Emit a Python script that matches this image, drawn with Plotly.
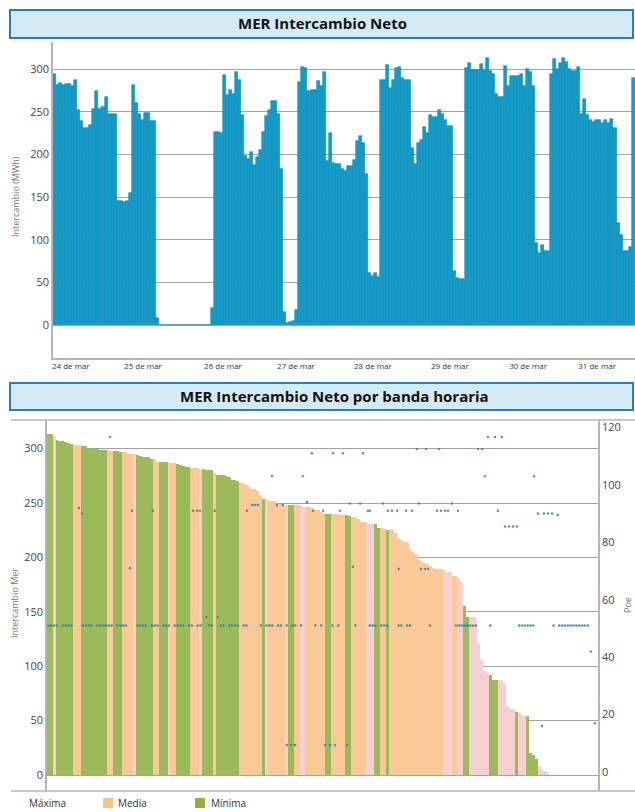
import plotly.graph_objects as go

# ---------------- DATA ----------------
# Hourly MER net exchange (MWh), 24-31 March
intercambio = [
    295, 282, 284, 282, 283, 283, 280, 288, 252, 239, 231, 231, 235, 254, 275, 254,
    256, 267, 248, 248, 248, 145, 145, 144, 145, 155, 282, 261, 248, 240, 249, 249,
    239, 239, 8, 0, 0, 0, 0, 0, 0, 0, 0, 0, 0, 0, 0, 0,
    0, 0, 0, 0, 20, 227, 227, 225, 293, 270, 276, 271, 297, 288, 246, 198,
    195, 203, 188, 197, 205, 226, 245, 252, 263, 263, 248, 183, 15, 3, 4, 5,
    18, 285, 303, 301, 274, 276, 276, 286, 280, 297, 192, 225, 190, 189, 189, 183,
    181, 187, 187, 194, 216, 222, 214, 177, 61, 58, 61, 57, 287, 287, 305, 278,
    288, 302, 303, 290, 288, 288, 208, 189, 214, 217, 232, 225, 246, 244, 244, 252,
    248, 240, 233, 233, 63, 55, 54, 54, 302, 307, 299, 299, 299, 306, 299, 313,
    298, 294, 271, 268, 268, 304, 281, 292, 292, 292, 295, 281, 300, 297, 280, 96,
    85, 94, 87, 87, 295, 312, 300, 307, 313, 308, 300, 298, 298, 303, 248, 265,
    246, 240, 238, 240, 240, 237, 240, 237, 242, 231, 120, 106, 87, 87, 92, 290,
]

day_labels = ["24 de mar", "25 de mar", "26 de mar", "27 de mar",
              "28 de mar", "29 de mar", "30 de mar", "31 de mar"]
day_label_hour = [5.4, 29.2, 55.6, 79.7, 105.1, 130.5, 156.3, 179.1]

# Band of each bar in the duration curve (sorted high -> low)
# X = Máxima, M = Media, G = Mínima
band_runs = [
    ("G", 2), ("X", 1), ("G", 6), ("M", 3), ("G", 9), ("M", 2), ("G", 3), ("M", 4),
    ("X", 1), ("G", 6), ("M", 2), ("G", 3), ("X", 1), ("M", 2), ("G", 5), ("M", 3),
    ("X", 1), ("G", 4), ("M", 1), ("G", 8), ("M", 8), ("G", 1), ("X", 1), ("M", 6),
    ("X", 1), ("G", 2), ("M", 2), ("X", 2), ("M", 7), ("G", 2), ("M", 5), ("G", 2),
    ("M", 5), ("X", 3), ("G", 2), ("M", 2), ("G", 1), ("M", 19), ("X", 3), ("M", 2),
    ("X", 2), ("G", 2), ("X", 7), ("G", 3), ("X", 6), ("G", 1), ("X", 3), ("G", 4),
    ("X", 21),
]
band_names = {"X": "Máxima", "M": "Media", "G": "Mínima"}
legend_labels = ["Máxima", "Media", "Mínima"]

# Poe points (secondary axis): position in the sorted curve and value
poe_rank = [
    0, 1, 2, 3, 5, 6, 7, 8,
    12, 13, 14, 15, 17, 18, 19, 20, 21, 22, 24, 25, 26, 27,
    31, 32, 33, 34, 36, 37, 38, 40, 41, 42, 44, 45, 46, 47, 49, 50,
    52, 53, 55, 56, 57, 59, 60, 61, 63, 64, 65, 66, 68, 69,
    74, 76, 77, 78, 80, 81, 83, 85, 86, 88, 93, 95, 99, 101, 107,
    112, 113, 114, 116, 117, 118, 122, 123, 125, 126, 133,
    142, 143, 144, 145, 146, 147, 148, 149, 154,
    164, 165, 166, 167, 168, 169, 176,
    178, 179, 180, 181, 182, 183, 184, 185, 186, 187, 188,
    21.5, 10.6, 11.7, 28.4, 29.1, 36.4, 50.4, 51.8, 52.8, 58, 69.2,
    71, 72, 73, 77.9, 79.6, 81.7, 88.7, 90.1, 91.8, 92.2, 95.7,
    99.2, 102.6, 101.6, 105, 108.6, 106.1, 109.6, 111.3, 112, 116.6,
    118.3, 119.7, 121.5, 122.1, 124.6, 126.7, 128.4, 131.6, 136.1, 129.1,
    129.8, 131.2, 132.3, 135.4, 136.8, 138.2, 139.2, 140.6, 142.7,
    149.7, 151.1, 152.1, 153.2, 155.6, 158, 156.6,
    159.1, 160.5, 161.9, 163.3, 169.2, 170.6, 172.7, 174.1, 175.5, 177.5,
    83.1, 84.5, 85.9, 96.4, 98.1, 99.8, 104, 172, 189, 190.4,
]
poe_value = [
    51, 51, 51, 51, 51, 51, 51, 51,
    51, 51, 51, 51, 51, 51, 51, 51, 51, 51, 51, 51, 51, 51,
    51, 51, 51, 51, 51, 51, 51, 51, 51, 51, 51, 51, 51, 51, 51, 51,
    51, 51, 54, 51, 51, 54, 51, 51, 51, 51, 51, 51, 51, 51,
    51, 51, 51, 51, 51, 51, 51, 51, 51, 51, 51, 51, 51, 51, 51,
    51, 51, 51, 51, 51, 51, 51, 51, 51, 51, 51,
    51, 51, 51, 51, 51, 51, 51, 51, 51,
    51, 51, 51, 51, 51, 51, 51,
    51, 51, 51, 51, 51, 51, 51, 51, 51, 51, 51,
    116.7, 92, 90, 71, 91, 91, 91, 91, 91, 91, 91,
    93, 93, 93, 103, 93, 93, 103, 94, 111, 91, 91,
    111, 111, 91, 93.5, 93.5, 71.5, 111, 91, 91, 93.5,
    91, 91, 91, 70.7, 91, 91, 112.5, 112.5, 112.5, 93.5,
    70.7, 70.7, 70.7, 91, 91, 91, 91, 93.5, 91,
    112.5, 112.5, 103, 116.7, 116.7, 116.7, 91,
    85.5, 85.5, 85.5, 85.5, 103, 90, 90, 90, 90, 89.5,
    9.4, 9.4, 9.4, 9.4, 9.4, 9.4, 9.4, 16, 42, 17,
]

# ---------------- LAYOUT HELPERS ----------------
W, H = 635, 812
def fx(p):
    return p / W
def fy(p):
    return 1 - p / H

FONT = "Open Sans"
GRID = "#a3a3a3"
AXIS = "#b5b5b5"
band_color = {"X": "#f6d0d0", "M": "#f9ca98", "G": "#9cba5a"}
swatch_color = {"X": "rgba(255,255,255,0)", "M": "#f8c08a", "G": "#8fb13d"}

fig = go.Figure()

# ---- top chart ----
hours = list(range(len(intercambio)))
fig.add_trace(go.Bar(
    x=hours, y=intercambio, xaxis="x", yaxis="y",
    marker=dict(color="#0f9dcb", line=dict(color="#1985ab", width=0.6)),
    showlegend=False, hoverinfo="x+y", name="Intercambio",
))

# ---- bottom chart: duration curve ----
bands = []
for code, n in band_runs:
    bands.extend([code] * n)
sorted_vals = sorted(intercambio, reverse=True)
bands = (bands + ["X"] * len(sorted_vals))[:len(sorted_vals)]

for code in ["X", "M", "G"]:
    xs = [r for r in range(len(sorted_vals)) if bands[r] == code]
    ys = [sorted_vals[r] for r in xs]
    fig.add_trace(go.Bar(
        x=xs, y=ys, xaxis="x2", yaxis="y2",
        marker=dict(color=band_color[code], line=dict(width=0)),
        showlegend=False, name=band_names[code],
    ))

fig.add_trace(go.Scatter(
    x=poe_rank, y=poe_value, xaxis="x2", yaxis="y3", mode="markers",
    marker=dict(color="#3a8796", size=2.6, opacity=0.85),
    showlegend=False, name="Poe",
))

shapes = [
    # title boxes
    dict(type="rect", xref="paper", yref="paper", x0=fx(10), x1=fx(633), y0=fy(38), y1=fy(10),
         fillcolor="#d4ebf5", line=dict(color="#2a7db5", width=2), layer="below"),
    dict(type="rect", xref="paper", yref="paper", x0=fx(10), x1=fx(633), y0=fy(410), y1=fy(383),
         fillcolor="#d4ebf5", line=dict(color="#2a7db5", width=2), layer="below"),
    # bottom frame lines
    dict(type="line", xref="paper", yref="paper", x0=fx(11), x1=1, y0=fy(420), y1=fy(420),
         line=dict(color=AXIS, width=1.5)),
    dict(type="line", xref="paper", yref="paper", x0=fx(11), x1=1, y0=fy(791), y1=fy(791),
         line=dict(color=AXIS, width=1.5)),
]

annotations = [
    dict(text="<b>MER Intercambio Neto</b>", xref="paper", yref="paper", x=fx(322), y=fy(23),
         showarrow=False, font=dict(family=FONT, size=15, color="#111"), xanchor="center", yanchor="middle"),
    dict(text="<b>MER Intercambio Neto por banda horaria</b>", xref="paper", yref="paper",
         x=fx(334), y=fy(396), showarrow=False, font=dict(family=FONT, size=15, color="#111"),
         xanchor="center", yanchor="middle"),
    dict(text="Intercambio (MWh)", xref="paper", yref="paper", x=fx(15), y=fy(197), textangle=-90,
         showarrow=False, font=dict(family=FONT, size=9, color="#777"), xanchor="center", yanchor="middle"),
    dict(text="Intercambio Mer", xref="paper", yref="paper", x=fx(14), y=fy(603), textangle=-90,
         showarrow=False, font=dict(family=FONT, size=9, color="#777"), xanchor="center", yanchor="middle"),
    dict(text="Poe", xref="paper", yref="paper", x=fx(627), y=fy(605), textangle=-90,
         showarrow=False, font=dict(family=FONT, size=9, color="#777"), xanchor="center", yanchor="middle"),
]

# legend (text + swatches)
legend_text_x = [27, 116, 209]
legend_swatch_x = [12, 103, 195]
for lab, code, tx, sx in zip(legend_labels, ["X", "M", "G"], legend_text_x, legend_swatch_x):
    annotations.append(dict(text=lab, xref="paper", yref="paper", x=fx(tx), y=fy(803),
                            showarrow=False, xanchor="left", yanchor="middle",
                            font=dict(family=FONT, size=10, color="#333")))
    shapes.append(dict(type="rect", xref="paper", yref="paper", x0=fx(sx), x1=fx(sx + 10),
                       y0=fy(808), y1=fy(798), fillcolor=swatch_color[code], line=dict(width=0)))

fig.update_layout(
    width=W, height=H,
    margin=dict(l=0, r=0, t=0, b=0),
    paper_bgcolor="white", plot_bgcolor="white",
    font=dict(family=FONT, color="#444"),
    barmode="overlay", bargap=0, showlegend=False,
    shapes=shapes, annotations=annotations,
    xaxis=dict(domain=[fx(53), 1], anchor="y", range=[-0.5, 191.6],
               tickmode="array", tickvals=day_label_hour, ticktext=day_labels,
               tickfont=dict(size=8, color="#333"), showline=True, linecolor=AXIS, linewidth=1.5,
               showgrid=False, zeroline=False, ticks=""),
    yaxis=dict(domain=[fy(358), fy(42)], anchor="x", range=[-38.5, 332], tick0=0, dtick=50,
               gridcolor=GRID, gridwidth=1, showline=True, linecolor=AXIS, linewidth=1.5,
               zeroline=False, ticks="", tickfont=dict(size=11, color="#444")),
    xaxis2=dict(domain=[fx(47), fx(598)], anchor="y2", range=[-0.5, 191.5],
                showticklabels=False, showgrid=False, zeroline=False, showline=False, ticks=""),
    yaxis2=dict(domain=[fy(791), fy(420)], anchor="x2", range=[-14.7, 326.3], tick0=0, dtick=50,
                gridcolor=GRID, gridwidth=1, showline=True, linecolor=AXIS, linewidth=1.5,
                zeroline=False, ticks="", tickfont=dict(size=11, color="#444")),
    yaxis3=dict(overlaying="y2", anchor="x2", side="right", range=[-6.6, 122.6], tick0=0, dtick=20,
                showgrid=False, showline=True, linecolor=AXIS, linewidth=1.5, zeroline=False,
                ticks="", tickfont=dict(size=11, color="#444")),
)

fig.write_html("out.html", config={"displayModeBar": False},
               post_script="document.body.style.margin='0px';")
